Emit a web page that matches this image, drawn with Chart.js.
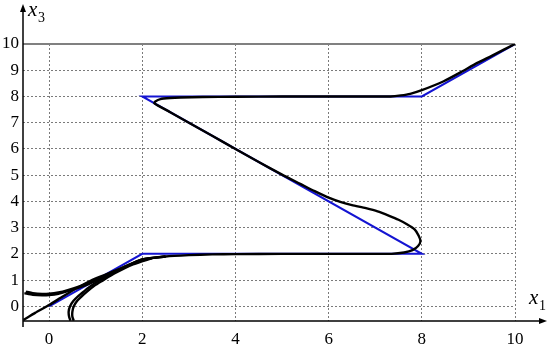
<!DOCTYPE html>
<html>
<head>
<meta charset="utf-8">
<script src="https://cdn.jsdelivr.net/npm/chart.js@4.4.1/dist/chart.umd.min.js"></script>
<style>
    body { margin: 0; background: #fff; }
    #wrap { width: 550px; height: 347px; }
    .preload { font-family: 'Liberation Serif'; position: absolute; left: -999px; top: 0; }
</style>
</head>
<body>
<span class="preload">0123456789 <i>x</i></span>
<div id="wrap"><canvas id="phaseChart" width="550" height="347"></canvas></div>
<script>
// 눈금
const xTicks = [0, 2, 4, 6, 8, 10];
const yTicks = [0, 1, 2, 3, 4, 5, 6, 7, 8, 9, 10];

// 기준 경로 (파란선)
const refX = [0, 2, 8, 2, 8, 10];
const refY = [0, 2, 2, 8, 8, 10];

// 주 궤적 (검은선)
const mainX = [-0.55, -0.3, 0, 0.3, 0.6, 0.9, 1.2, 1.5, 1.8, 2.0, 2.5, 3, 3.5, 4, 5, 6, 7, 7.35, 7.62, 7.8, 7.92, 7.97, 7.93, 7.84, 7.68, 7.5, 7.3, 7.05, 6.8, 6.5, 6.25, 6.0, 5.7, 5.39, 5.0, 4.5, 4.0, 3.5, 3.0, 2.6, 2.35, 2.26, 2.28, 2.39, 2.6, 2.82, 3.3, 4, 5, 6, 7, 7.33, 7.55, 7.75, 8.0, 8.47, 8.83, 9.19, 9.5, 10];
const mainY = [-0.52, -0.25, 0.05, 0.38, 0.7, 0.98, 1.2, 1.42, 1.65, 1.79, 1.9, 1.95, 1.98, 1.99, 2, 2, 2, 2.0, 2.05, 2.14, 2.3, 2.48, 2.7, 2.94, 3.13, 3.3, 3.45, 3.62, 3.74, 3.86, 3.98, 4.14, 4.39, 4.67, 5.02, 5.5, 6.0, 6.5, 7.0, 7.4, 7.64, 7.74, 7.81, 7.9, 7.94, 7.96, 7.98, 7.99, 8, 8, 8, 8.0, 8.04, 8.1, 8.24, 8.58, 8.92, 9.28, 9.55, 10];

// 왼쪽에서 시작하는 궤적
const up1X = [-0.53, -0.35, -0.15, 0, 0.2, 0.4, 0.7, 1.0, 1.3, 1.6, 2.0, 2.5];
const up1Y = [0.5, 0.44, 0.42, 0.43, 0.48, 0.58, 0.75, 0.97, 1.22, 1.47, 1.78, 1.9];
const up2X = [-0.5, -0.35, -0.15, 0, 0.2, 0.4, 0.7, 1.0, 1.3, 1.6, 2.0, 2.5];
const up2Y = [0.56, 0.5, 0.47, 0.48, 0.53, 0.62, 0.79, 1.0, 1.24, 1.49, 1.79, 1.9];

// 아래에서 시작하는 궤적
const low1X = [0.46, 0.43, 0.42, 0.45, 0.52, 0.62, 0.75, 0.9, 1.1, 1.4, 1.8, 2.2];
const low1Y = [-0.55, -0.4, -0.2, 0.0, 0.2, 0.38, 0.57, 0.78, 1.0, 1.3, 1.63, 1.85];
const low2X = [0.53, 0.5, 0.5, 0.53, 0.6, 0.7, 0.82, 0.97, 1.15, 1.4, 1.8, 2.2];
const low2Y = [-0.55, -0.4, -0.2, 0.0, 0.2, 0.38, 0.57, 0.78, 0.98, 1.25, 1.6, 1.83];

const serif = '"Liberation Serif", "Times New Roman", Times, serif';

function toPoints(xs, ys) {
    return xs.map((x, i) => ({ x: x, y: ys[i] }));
}

function blackLine(xs, ys) {
    return {
        data: toPoints(xs, ys),
        borderColor: '#000',
        borderWidth: 2.4,
        pointRadius: 0,
        showLine: true,
        tension: 0.2,
        fill: false
    };
}

// 축, 화살표, 축 이름 그리기
const axesPlugin = {
    id: 'axesPlugin',
    beforeDatasetsDraw(chart) {
        const ctx = chart.ctx;
        const a = chart.chartArea;
        ctx.save();
        ctx.strokeStyle = '#808080';
        ctx.lineWidth = 2;
        ctx.beginPath();
        ctx.moveTo(a.left, chart.scales.y.getPixelForValue(10));
        ctx.lineTo(a.right, chart.scales.y.getPixelForValue(10));
        ctx.stroke();
        ctx.restore();
    },
    afterDraw(chart) {
        const ctx = chart.ctx;
        const a = chart.chartArea;
        ctx.save();
        ctx.strokeStyle = '#000';
        ctx.fillStyle = '#000';
        ctx.lineWidth = 1.5;
        // y축
        ctx.beginPath();
        ctx.moveTo(a.left, a.bottom + 6);
        ctx.lineTo(a.left, 10);
        ctx.stroke();
        ctx.beginPath();
        ctx.moveTo(a.left, 4);
        ctx.lineTo(a.left - 3, 12);
        ctx.lineTo(a.left + 3, 12);
        ctx.closePath();
        ctx.fill();
        // x축
        ctx.beginPath();
        ctx.moveTo(a.left, a.bottom);
        ctx.lineTo(540, a.bottom);
        ctx.stroke();
        ctx.beginPath();
        ctx.moveTo(547, a.bottom);
        ctx.lineTo(539, a.bottom - 3);
        ctx.lineTo(539, a.bottom + 3);
        ctx.closePath();
        ctx.fill();
        // 축 이름
        ctx.textBaseline = 'alphabetic';
        ctx.textAlign = 'left';
        ctx.font = 'italic 21px ' + serif;
        ctx.fillText('x', 28, 16);
        ctx.fillText('x', 529, 304);
        ctx.font = '14px ' + serif;
        ctx.fillText('3', 38, 22);
        ctx.fillText('1', 539, 310);
        ctx.restore();
    }
};

function drawChart() {
    const ctx = document.getElementById('phaseChart').getContext('2d');

    new Chart(ctx, {
        type: 'scatter',
        data: {
            datasets: [
                blackLine(mainX, mainY),
                blackLine(up1X, up1Y),
                blackLine(up2X, up2Y),
                blackLine(low1X, low1Y),
                blackLine(low2X, low2Y),
                {
                    data: toPoints(refX, refY),
                    borderColor: '#1414d2',
                    borderWidth: 2,
                    pointRadius: 0,
                    showLine: true,
                    tension: 0,
                    fill: false
                }
            ]
        },
        options: {
            responsive: false,
            animation: false,
            layout: { padding: { left: 0, top: 44, right: 35, bottom: 0 } },
            plugins: {
                legend: { display: false },
                tooltip: { enabled: false }
            },
            scales: {
                x: {
                    type: 'linear',
                    min: -0.56,
                    max: 10,
                    afterBuildTicks: (scale) => { scale.ticks = xTicks.map(v => ({ value: v })); },
                    afterFit: (scale) => { scale.height = 26; },
                    grid: { color: '#7a7a7a', lineWidth: 1, drawTicks: false },
                    border: { display: false, dash: [2, 2] },
                    ticks: {
                        padding: 8,
                        color: '#000',
                        font: { family: serif, size: 17 }
                    }
                },
                y: {
                    type: 'linear',
                    min: -0.56,
                    max: 10,
                    afterBuildTicks: (scale) => { scale.ticks = yTicks.map(v => ({ value: v })); },
                    afterFit: (scale) => { scale.width = 23; },
                    grid: { color: '#7a7a7a', lineWidth: 1, drawTicks: false },
                    border: { display: false, dash: [2, 2] },
                    ticks: {
                        padding: 4,
                        color: '#000',
                        font: { family: serif, size: 17 }
                    }
                }
            }
        },
        plugins: [axesPlugin]
    });
}

// 글꼴을 먼저 불러온 뒤 차트를 그림
Promise.all([
    document.fonts.load('17px "Liberation Serif"'),
    document.fonts.load('italic 21px "Liberation Serif"')
]).then(drawChart, drawChart);
</script>
</body>
</html>
